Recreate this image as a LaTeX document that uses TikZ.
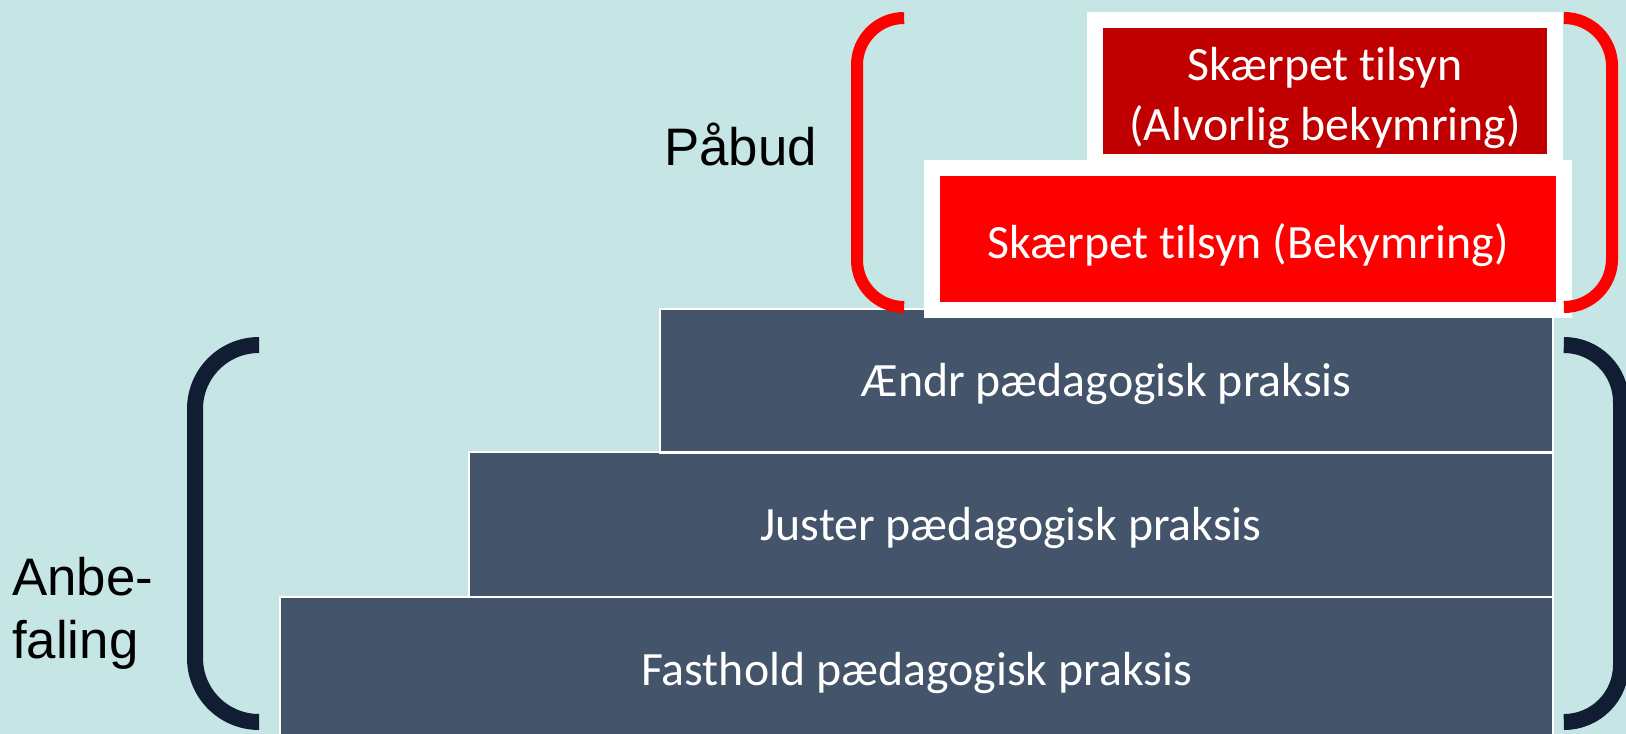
\documentclass[tikz,border=0pt]{standalone}
\usepackage{fontspec}
\setmainfont{Liberation Sans}
\newfontfamily\boxfont[Ligatures=NoCommon]{Carlito}
\definecolor{bg}{HTML}{C5E6E5}
\definecolor{slate}{HTML}{44546A}
\definecolor{darkred}{HTML}{C00000}
\definecolor{brightred}{HTML}{FF0000}
\definecolor{navy}{HTML}{111D33}
\begin{document}
\begin{tikzpicture}[x=1bp,y=-1bp,
  graybox/.style={draw=white, line width=2.5bp, fill=slate, text=white, inner sep=0pt,
    font=\boxfont\fontsize{48}{56}\selectfont, text height=31bp, text depth=0pt},
  redbox/.style={draw=white, line width=16bp, fill=brightred, text=white, inner sep=0pt,
    font=\boxfont\fontsize{48}{56}\selectfont, text height=39bp, text depth=0pt},
  darkbox/.style={draw=white, line width=16bp, fill=darkred, inner sep=0pt},
  boxtext/.style={text=white, inner sep=0pt, align=center, font=\boxfont\fontsize{48}{61}\selectfont},
  lbl/.style={inner sep=0pt, text=black, font=\fontsize{53}{63}\selectfont},
  redbr/.style={draw=brightred, line width=12bp},
  navybr/.style={draw=navy, line width=16bp}]
\useasboundingbox (0,0) rectangle (1626,734);
\fill[bg] (0,0) rectangle (1626,734);
\clip (0,0) rectangle (1626,734);
% steps
\node[graybox, minimum width=1273bp, minimum height=145bp] (fast) at (916.5,669.5) {Fasthold pædagogisk praksis};
\node[graybox, minimum width=1084bp, minimum height=145bp] (just) at (1011,524.5) {Juster pædagogisk praksis};
\node[graybox, minimum width=893bp, minimum height=143.5bp] (aendr) at (1106.5,380.5) {Ændr pædagogisk praksis};
% red boxes
\node[redbox, minimum width=632bp, minimum height=142bp] (bek) at (1248,239) {Skærpet tilsyn (Bekymring)};
\node[darkbox, minimum width=460bp, minimum height=142bp] (alv) at (1325,91) {};
\node[boxtext] (alvtxt) at (1325,98) {Skærpet tilsyn\\(Alvorlig bekymring)};
% brackets
\draw[redbr, rounded corners=47bp] (904,18) -- (857,18) -- (857,307) -- (904,307);
\draw[redbr, rounded corners=48bp] (1564,18) -- (1612,18) -- (1612,307) -- (1564,307);
\draw[navybr, rounded corners=64bp] (259,345) -- (195,345) -- (195,722) -- (259,722);
\draw[navybr, rounded corners=57bp] (1564,345) -- (1621,345) -- (1621,722) -- (1564,722);
% labels
\node[lbl, anchor=base west] (pabud) at (664,165) {Påbud};
\node[lbl, anchor=base west, align=left] (anbe) at (12,658) {Anbe-\\faling};
\end{tikzpicture}
\end{document}
